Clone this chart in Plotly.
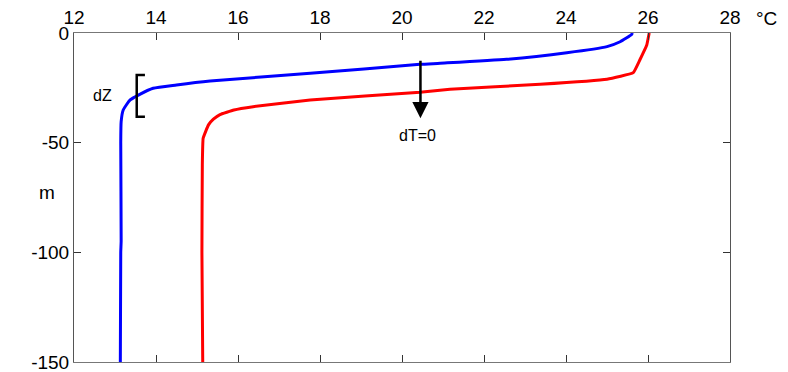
import plotly.graph_objects as go

# Temperature profiles (°C) vs depth (m)
blue_temp = [25.62, 25.6, 25.32, 25.0, 24.02, 22.55, 20.93, 20.44, 17.76, 15.32, 14.5, 13.93, 13.57, 13.37, 13.2, 13.15, 13.14, 13.15, 13.14, 13.13]
blue_depth = [0, -0.7, -4, -6.2, -9, -12, -13.8, -14.3, -18.4, -21.9, -23.7, -25.2, -28.3, -30.5, -35.1, -40.4, -50, -95, -100, -150]

red_temp = [26.03, 26.02, 25.97, 25.8, 25.64, 25.0, 23.37, 21.17, 20.44, 17.76, 16.37, 15.9, 15.56, 15.4, 15.28, 15.15, 15.13, 15.12, 15.14]
red_depth = [0, -0.9, -5.5, -12.3, -18.1, -21.1, -23.4, -25.6, -27.0, -30.5, -33.6, -35.1, -37.2, -39.3, -41.9, -48, -60, -100, -150]

x_ticks = [12, 14, 16, 18, 20, 22, 24, 26, 28]
y_ticks = [0, -50, -100, -150]
y_ticktext = ["0", "-50", "-100", "-150"]

# annotation positions (data coords)
arrow_x, arrow_top, arrow_tip = 20.45, -12, -38.9
dt_label = (20.37, -46.7)
bracket_x, bracket_serif, bracket_top, bracket_bot = 13.53, 13.73, -19.2, -38.2
dz_label = (12.7, -28.3)

fig = go.Figure()
fig.add_trace(go.Scatter(x=blue_temp, y=blue_depth, mode="lines",
                         line=dict(color="#0000FF", width=3, shape="spline", smoothing=0.5),
                         showlegend=False))
fig.add_trace(go.Scatter(x=red_temp, y=red_depth, mode="lines",
                         line=dict(color="#FF0000", width=3, shape="spline", smoothing=0.3),
                         showlegend=False))

font = dict(family="Liberation Sans, Arial, sans-serif", size=19, color="black")

fig.update_layout(
    width=788, height=372,
    margin=dict(l=74, r=58, t=33, b=10),
    plot_bgcolor="white", paper_bgcolor="white",
    font=font,
    xaxis=dict(side="top", range=[12, 28], tickvals=x_ticks, ticks="inside", ticklen=7,
               tickcolor="#333", tickwidth=1, showline=True, linecolor="#777", linewidth=1,
               mirror="ticks", showgrid=False, zeroline=False, tickfont=font, automargin=False,
               ticklabeloverflow="allow"),
    yaxis=dict(range=[-150, 0], tickvals=y_ticks, ticktext=y_ticktext, ticks="inside", ticklen=7,
               tickcolor="#333", tickwidth=1, showline=True, linecolor="#555", linewidth=1,
               mirror="ticks", showgrid=False, zeroline=False, tickfont=font, automargin=False,
               ticklabeloverflow="allow"),
)

fig.add_annotation(x=arrow_x, y=arrow_tip, ax=arrow_x, ay=arrow_top, xref="x", yref="y",
                   axref="x", ayref="y", showarrow=True, arrowhead=2, arrowsize=1.3,
                   arrowwidth=2.5, arrowcolor="black", text="")
fig.add_annotation(x=dt_label[0], y=dt_label[1], xref="x", yref="y", text="dT=0",
                   showarrow=False, font=dict(family=font["family"], size=16, color="black"))
fig.add_annotation(x=dz_label[0], y=dz_label[1], xref="x", yref="y", text="dZ",
                   showarrow=False, font=dict(family=font["family"], size=16, color="black"))
fig.add_shape(type="path",
              path=f"M {bracket_serif},{bracket_top} L {bracket_x},{bracket_top} L {bracket_x},{bracket_bot} L {bracket_serif},{bracket_bot}",
              xref="x", yref="y", line=dict(color="black", width=2.5))

fig.add_annotation(x=1.0, y=1.0, xref="paper", yref="paper", xanchor="left", yanchor="bottom",
                   xshift=24, yshift=2, text="°C", showarrow=False, font=font)
fig.add_annotation(x=0, y=0.5, xref="paper", yref="paper", xanchor="center", yanchor="middle",
                   xshift=-27, yshift=5, text="m", showarrow=False, font=font)

fig.write_html("out.html")
